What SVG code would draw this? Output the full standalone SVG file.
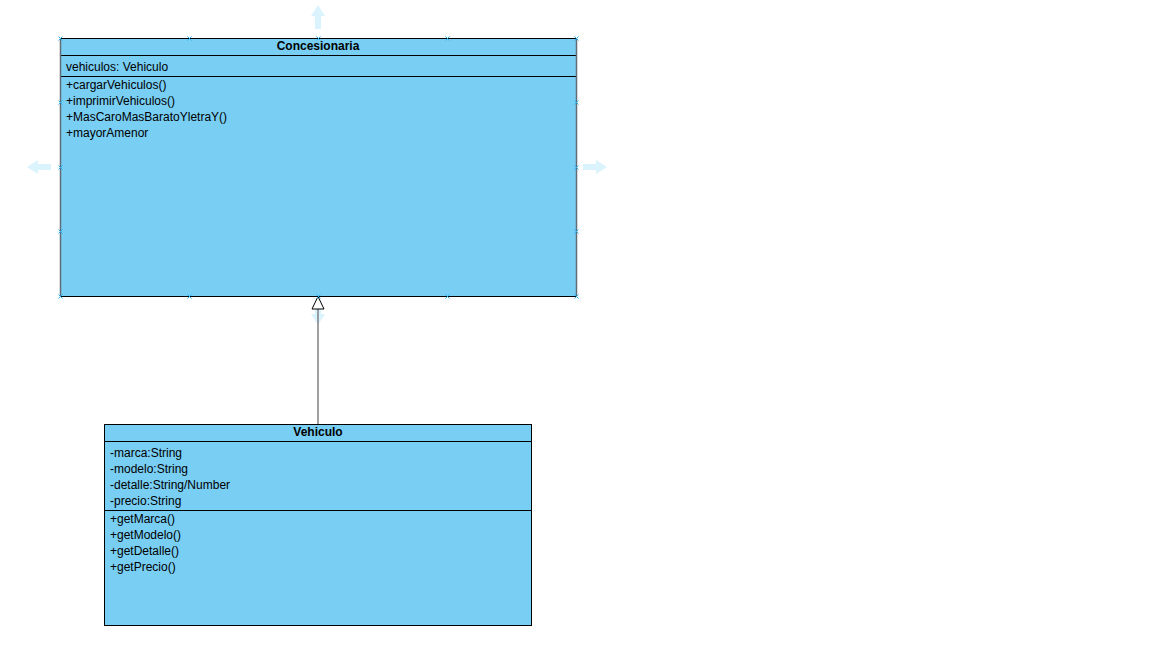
<svg xmlns="http://www.w3.org/2000/svg" width="1152" height="668" viewBox="0 0 1152 668">
<defs>
<style>
.box{fill:#79CEF4;stroke:#000;stroke-width:1}
.div{stroke:#000;stroke-width:1}
.t{font-family:"Liberation Sans",Arial,sans-serif;font-size:12px;fill:#000}
.b{font-weight:bold;text-anchor:middle}
.hint{fill:#29b6f2;opacity:0.17}
.h{stroke:#29b6f2;stroke-width:1;fill:none}
</style>
<path id="hx" d="M-2,-2L2,2M2,-2L-2,2"/>
<path id="arr" d="M0,0L7,11L3,11L3,24L-3,24L-3,11L-7,11Z"/>
</defs>
<rect width="1152" height="668" fill="#fff"/>
<g id="hints">
<use href="#arr" class="hint" transform="translate(318,5)"/>
<use href="#arr" class="hint" transform="translate(318,325) rotate(180)"/>
<use href="#arr" class="hint" transform="translate(27,167) rotate(-90)"/>
<use href="#arr" class="hint" transform="translate(607,167) rotate(90)"/>
</g>
<g id="Concesionaria">
<rect class="box" x="60.5" y="38.5" width="516" height="258"/>
<line class="div" x1="60.5" y1="55.5" x2="576.5" y2="55.5"/>
<line class="div" x1="60.5" y1="76.5" x2="576.5" y2="76.5"/>
<line x1="60.5" y1="38.5" x2="60.5" y2="296.5" stroke="#5f6d78" stroke-width="1.5"/>
<line x1="576.5" y1="38.5" x2="576.5" y2="296.5" stroke="#5f6d78" stroke-width="1.5"/>
<text class="t b" x="318" y="50">Concesionaria</text>
<text class="t" x="66" y="71">vehiculos: Vehiculo</text>
<text class="t" x="66" y="89">+cargarVehiculos()</text>
<text class="t" x="66" y="105">+imprimirVehiculos()</text>
<text class="t" x="66" y="121">+MasCaroMasBaratoYletraY()</text>
<text class="t" x="66" y="137">+mayorAmenor</text>
</g>
<g id="Vehiculo">
<rect class="box" x="104.5" y="424.5" width="427" height="201"/>
<line class="div" x1="104.5" y1="441.5" x2="531.5" y2="441.5"/>
<line class="div" x1="104.5" y1="510.5" x2="531.5" y2="510.5"/>
<text class="t b" x="318" y="436">Vehiculo</text>
<text class="t" x="110" y="457">-marca:String</text>
<text class="t" x="110" y="473">-modelo:String</text>
<text class="t" x="110" y="489">-detalle:String/Number</text>
<text class="t" x="110" y="505">-precio:String</text>
<text class="t" x="110" y="523">+getMarca()</text>
<text class="t" x="110" y="539">+getModelo()</text>
<text class="t" x="110" y="555">+getDetalle()</text>
<text class="t" x="110" y="571">+getPrecio()</text>
</g>
<g id="connectors">
<line x1="318" y1="309" x2="318" y2="424" stroke="#808080" stroke-width="1.5"/>
<path d="M318,296.5L324,309L312,309Z" fill="#fff" stroke="#000" stroke-width="1"/>
</g>
<g id="handles" class="h">
<use href="#hx" x="60.5" y="38.5"/><use href="#hx" x="189.5" y="38.5"/><use href="#hx" x="318.5" y="38.5"/><use href="#hx" x="447.5" y="38.5"/><use href="#hx" x="576.5" y="38.5"/>
<use href="#hx" x="60.5" y="296.5"/><use href="#hx" x="189.5" y="296.5"/><use href="#hx" x="318.5" y="296.5"/><use href="#hx" x="447.5" y="296.5"/><use href="#hx" x="576.5" y="296.5"/>
<use href="#hx" x="60.5" y="102.5"/><use href="#hx" x="60.5" y="167.5"/><use href="#hx" x="60.5" y="231.5"/>
<use href="#hx" x="576.5" y="102.5"/><use href="#hx" x="576.5" y="167.5"/><use href="#hx" x="576.5" y="231.5"/>
</g>
</svg>
